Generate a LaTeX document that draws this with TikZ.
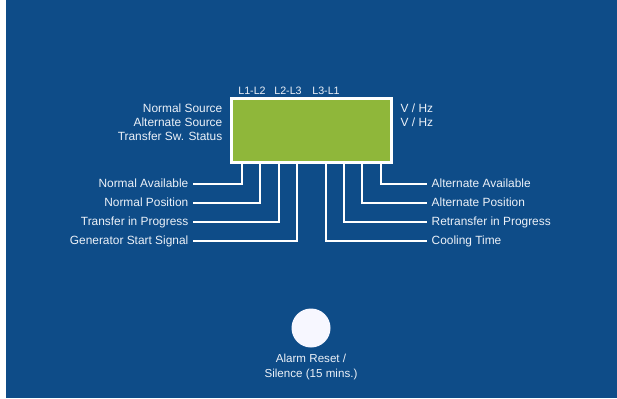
\documentclass[tikz,border=0pt]{standalone}
\usepackage{fontspec}
\setmainfont{Liberation Sans}
\usetikzlibrary{positioning}
\definecolor{panelblue}{RGB}{14,76,136}
\definecolor{lcdgreen}{RGB}{143,183,58}
\definecolor{labelwhite}{RGB}{236,241,248}

\begin{document}
\begin{tikzpicture}[
        x=1pt, y=-1pt,
        lbl/.style={text=labelwhite, font=\fontsize{11.9}{14}\selectfont, inner xsep=4.5pt, inner ysep=0pt, text height=8.5pt, text depth=2.5pt},
        toplbl/.style={lbl, font=\fontsize{10.7}{12}\selectfont},
        lcd/.style={rectangle, draw=white, line width=3pt, fill=lcdgreen, minimum width=160pt, minimum height=63pt, inner sep=0pt},
        button/.style={circle, fill=white!97!blue, minimum size=39pt, inner sep=0pt},
        wire/.style={draw=white, line width=2pt}
    ]
        % Panel
        \useasboundingbox (0,0) rectangle (617,398);
        \fill[panelblue] (6,0) rectangle (617,398);

        % Display
        \node[lcd] (lcd) at (311.5,130.5) {};
        \node[toplbl] (l12) at (252,92) {L1-L2};
        \node[toplbl] (l23) at (288,92) {L2-L3};
        \node[toplbl] (l31) at (326,92) {L3-L1};

        % Rows beside the display
        \node[lbl, anchor=east] (nsrc) at (227,110) {Normal Source};
        \node[lbl, anchor=east] (asrc) at (227,124) {Alternate Source};
        \node[lbl, anchor=east] (swst) at (227,138) {Transfer Sw. Status};
        \node[lbl, anchor=west] (vhz1) at (396,110) {V / Hz};
        \node[lbl, anchor=west] (vhz2) at (396,124) {V / Hz};

        % Left indicators
        \node[lbl, anchor=east] (navail) at (193,184) {Normal Available};
        \node[lbl, anchor=east] (npos) at (193,203) {Normal Position};
        \node[lbl, anchor=east] (xfer) at (193,222) {Transfer in Progress};
        \node[lbl, anchor=east] (genst) at (193,241) {Generator Start Signal};

        % Right indicators
        \node[lbl, anchor=west] (aavail) at (427,184) {Alternate Available};
        \node[lbl, anchor=west] (apos) at (427,203) {Alternate Position};
        \node[lbl, anchor=west] (rexfer) at (427,222) {Retransfer in Progress};
        \node[lbl, anchor=west] (cool) at (427,241) {Cooling Time};

        % Taps under the display
        \foreach \dx [count=\i] in {11.5,29.5,48.5,66.5,95.5,113.5,131.5,150.5}
            \coordinate (t\i) at ([xshift=\dx pt]lcd.south west);

        % Wires
        \draw[wire] (t1) |- (navail.east);
        \draw[wire] (t2) |- (npos.east);
        \draw[wire] (t3) |- (xfer.east);
        \draw[wire] (t4) |- (genst.east);
        \draw[wire] (t5) |- (cool.west);
        \draw[wire] (t6) |- (rexfer.west);
        \draw[wire] (t7) |- (apos.west);
        \draw[wire] (t8) |- (aavail.west);

        % Alarm button
        \node[button] (alarm) at (311,328) {};
        \node[below=6pt of alarm, text=labelwhite, font=\fontsize{11.6}{15}\selectfont, align=center, inner sep=0pt] (alarmtxt) {Alarm Reset /\\Silence (15 mins.)};
    \end{tikzpicture}
\end{document}
